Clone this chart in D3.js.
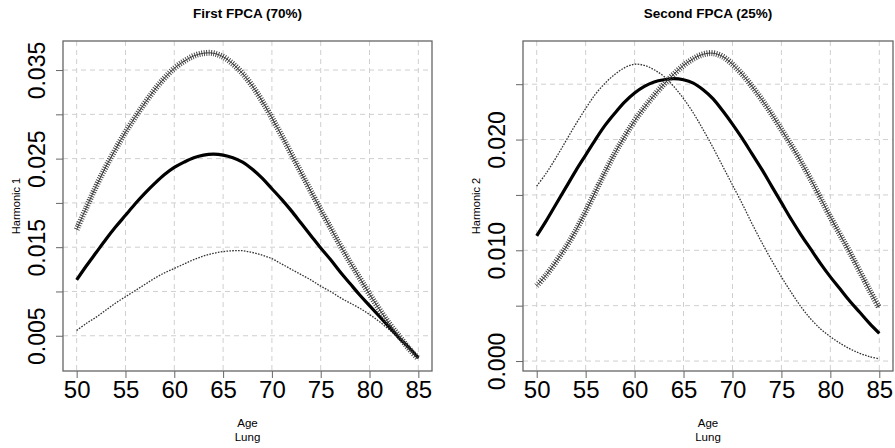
<!DOCTYPE html>
<html>
<head>
<meta charset="utf-8">
<script src="https://cdn.jsdelivr.net/npm/d3@7"></script>
<style>
body { margin: 0; background: #fff; }
text { font-family: "Liberation Sans", Arial, Helvetica, sans-serif; fill: #000; }
</style>
</head>
<body>
<div id="chart"></div>
<script>
// ages on the x axis
var ages = [50,51,52,53,54,55,56,57,58,59,60,61,62,63,64,65,66,67,
            68,69,70,71,72,73,74,75,76,77,78,79,80,81,82,83,84,85];

// first harmonic: mean +, mean, mean -
var h1_plus  = [0.0170,0.0195,0.0219,0.0241,0.0261,0.0280,0.0297,0.0313,0.0328,0.0341,0.0352,0.0360,
                0.0366,0.0369,0.0369,0.0365,0.0357,0.0346,0.0332,0.0315,0.0296,0.0276,0.0255,0.0234,
                0.0213,0.0192,0.0172,0.0152,0.0133,0.0115,0.0097,0.0080,0.0064,0.0050,0.0036,0.0024];
var h1_mean  = [0.0113,0.0129,0.0144,0.0159,0.0173,0.0186,0.0199,0.0211,0.0222,0.0232,0.0240,0.0246,
                0.0251,0.0254,0.0255,0.0254,0.0251,0.0246,0.0238,0.0228,0.0216,0.0204,0.0191,0.0177,
                0.0163,0.0149,0.0136,0.0122,0.0109,0.0096,0.0084,0.0072,0.0060,0.0048,0.0037,0.0025];
var h1_minus = [0.0056,0.0064,0.0071,0.0079,0.0087,0.0094,0.0101,0.0108,0.0115,0.0121,0.0126,0.0131,
                0.0136,0.0140,0.0143,0.0145,0.0146,0.0146,0.0144,0.0141,0.0137,0.0131,0.0125,0.0119,
                0.0113,0.0106,0.0100,0.0093,0.0087,0.0081,0.0074,0.0066,0.0057,0.0047,0.0036,0.0025];

// second harmonic
var h2_plus  = [0.0068,0.0078,0.0090,0.0103,0.0118,0.0135,0.0153,0.0171,0.0188,0.0203,0.0217,0.0229,
                0.0240,0.0250,0.0259,0.0267,0.0273,0.0277,0.0278,0.0275,0.0268,0.0259,0.0248,0.0236,
                0.0223,0.0209,0.0195,0.0180,0.0164,0.0147,0.0130,0.0114,0.0098,0.0081,0.0064,0.0048];
var h2_mean  = [0.0113,0.0127,0.0142,0.0157,0.0172,0.0186,0.0200,0.0213,0.0224,0.0234,0.0242,0.0248,
                0.0252,0.0254,0.0255,0.0254,0.0251,0.0245,0.0237,0.0226,0.0214,0.0201,0.0187,0.0173,
                0.0158,0.0143,0.0128,0.0114,0.0101,0.0088,0.0076,0.0065,0.0054,0.0044,0.0034,0.0025];
var h2_minus = [0.0158,0.0170,0.0184,0.0199,0.0214,0.0228,0.0241,0.0251,0.0259,0.0265,0.0268,0.0267,
                0.0263,0.0257,0.0248,0.0237,0.0224,0.0209,0.0193,0.0176,0.0159,0.0142,0.0124,0.0107,
                0.0091,0.0076,0.0062,0.0049,0.0038,0.0029,0.0022,0.0016,0.0011,0.0007,0.0004,0.0002];

// axis ticks
var xTicks   = [50,55,60,65,70,75,80,85];
var y1Ticks  = [0.005,0.010,0.015,0.020,0.025,0.030,0.035];
var y1Labels = ["0.005","","0.015","","0.025","","0.035"];
var y2Ticks  = [0.000,0.005,0.010,0.015,0.020,0.025];
var y2Labels = ["0.000","","0.010","","0.020",""];

var titles  = ["First FPCA (70%)", "Second FPCA (25%)"];
var yTitles = ["Harmonic 1", "Harmonic 2"];

var width = 895, height = 448;

var svg = d3.select("#chart").append("svg")
            .attr("width", width)
            .attr("height", height);

svg.append("rect").attr("width", width).attr("height", height).attr("fill", "#fff");

function panel(left, right, yDomain, plus, mean, minus, yTicks, yLabels, title, yTitle) {
	var top = 41, bottom = 371;
	var x = d3.scaleLinear().domain([48.6, 86.4]).range([left, right]);
	var y = d3.scaleLinear().domain(yDomain).range([bottom, top]);
	var g = svg.append("g");
	var cx = (left + right) / 2;

	// grid
	g.append("g").selectAll("line").data(xTicks).enter().append("line")
		.attr("x1", function(d) { return x(d); })
		.attr("x2", function(d) { return x(d); })
		.attr("y1", top).attr("y2", bottom)
		.attr("stroke", "#cfcfcf").attr("stroke-dasharray", "5,4");
	g.append("g").selectAll("line").data(yTicks).enter().append("line")
		.attr("y1", function(d) { return y(d); })
		.attr("y2", function(d) { return y(d); })
		.attr("x1", left).attr("x2", right)
		.attr("stroke", "#cfcfcf").attr("stroke-dasharray", "5,4");

	// axes
	var xAxis = g.append("g").attr("transform", "translate(0," + bottom + ")")
		.call(d3.axisBottom(x).tickValues(xTicks).tickSize(7).tickFormat(d3.format("d")));
	var yAxis = g.append("g").attr("transform", "translate(" + left + ",0)")
		.call(d3.axisLeft(y).tickValues(yTicks).tickSize(7).tickFormat(function(d, i) { return yLabels[i]; }));
	xAxis.select(".domain").remove();
	yAxis.select(".domain").remove();
	xAxis.selectAll("line").attr("stroke", "#666");
	yAxis.selectAll("line").attr("stroke", "#666");
	xAxis.selectAll("text")
		.attr("y", 27).attr("dy", 0)
		.style("font-size", "24px").style("font-family", "Liberation Sans, Arial, sans-serif");
	yAxis.selectAll("text")
		.attr("x", 0).attr("dy", 0)
		.attr("transform", "translate(-18,0) rotate(-90)")
		.attr("text-anchor", "middle")
		.style("font-size", "23px").style("font-family", "Liberation Sans, Arial, sans-serif");

	// box
	g.append("rect")
		.attr("x", left).attr("y", top)
		.attr("width", right - left).attr("height", bottom - top)
		.attr("fill", "none").attr("stroke", "#666").attr("stroke-width", 1.3);

	var line = d3.line()
		.x(function(d, i) { return x(ages[i]); })
		.y(function(d) { return y(d); })
		.curve(d3.curveCatmullRom);

	// "-" harmonic: small marks
	g.append("path").datum(minus)
		.attr("d", line).attr("fill", "none")
		.attr("stroke", "#333").attr("stroke-width", 1.3)
		.attr("stroke-dasharray", "1.6,1.3");

	// mean
	g.append("path").datum(mean)
		.attr("d", line).attr("fill", "none")
		.attr("stroke", "#000").attr("stroke-width", 3.2);

	// "+" harmonic: hatch plus centre line
	g.append("path").datum(plus)
		.attr("d", line).attr("fill", "none")
		.attr("stroke", "#3a3a3a").attr("stroke-width", 6)
		.attr("stroke-dasharray", "0.9,1.5");
	g.append("path").datum(plus)
		.attr("d", line).attr("fill", "none")
		.attr("stroke", "#3a3a3a").attr("stroke-width", 1);

	// titles
	g.append("text").attr("x", cx).attr("y", 18)
		.attr("text-anchor", "middle")
		.style("font-size", "13.5px").style("font-weight", "bold")
		.text(title);
	g.append("text").attr("x", cx).attr("y", 427)
		.attr("text-anchor", "middle").style("font-size", "11.5px").text("Age");
	g.append("text").attr("x", cx).attr("y", 441)
		.attr("text-anchor", "middle").style("font-size", "11.5px").text("Lung");
	g.append("text")
		.attr("transform", "translate(" + (left - 43) + "," + ((top + bottom) / 2) + ") rotate(-90)")
		.attr("text-anchor", "middle").style("font-size", "11px")
		.text(yTitle);
}

panel(63, 432, [0.00102, 0.03828], h1_plus, h1_mean, h1_minus, y1Ticks, y1Labels, titles[0], yTitles[0]);
panel(523, 893, [-0.0009, 0.0289], h2_plus, h2_mean, h2_minus, y2Ticks, y2Labels, titles[1], yTitles[1]);
</script>
</body>
</html>
